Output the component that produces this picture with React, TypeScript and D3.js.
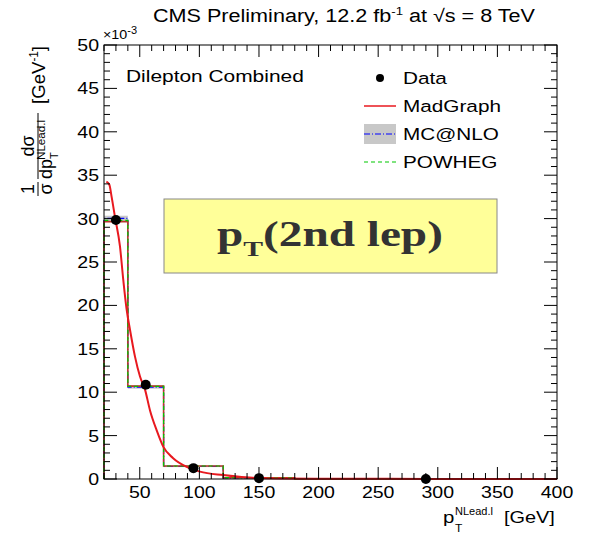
import React from "react";
import * as d3 from "d3";

const binEdges = [20, 40, 70, 120, 180, 400];
const madgraphHist = [29.65, 10.7, 1.5, 0.15, 0.01];
const mcatnloHist = [30.03, 10.6, 1.45, 0.14, 0.01];
const powhegHist = [29.8, 10.66, 1.5, 0.15, 0.01];
const mcatnloErr = [0.3, 0.2, 0.08, 0.03, 0.01];
const dataX = [30, 55, 95, 150, 290];
const dataY = [29.84, 10.85, 1.25, 0.1, 0.01];
const curveX = [22, 24.5, 26.4, 29.2, 33.4, 36.2, 39, 41.8, 46, 50.2, 54.4, 58.6, 64.2, 69.8, 78, 89.4, 100.5, 120, 148, 200, 260, 330, 400];
const curveY = [34.25, 33.9, 32.5, 30.2, 26.8, 22.9, 19.5, 17.2, 14.1, 11.8, 10.3, 7.9, 5.6, 3.7, 2.4, 1.4, 0.85, 0.45, 0.12, 0.04, 0.015, 0.006, 0.003];
const xTicks = [50, 100, 150, 200, 250, 300, 350, 400];
const yTicks = [0, 5, 10, 15, 20, 25, 30, 35, 40, 45, 50];
const legendItems = ["Data", "MadGraph", "MC@NLO", "POWHEG"];

const W = 594, H = 539;
const L = 104, R = 557, T = 45, B = 479;
const font = "'Liberation Sans', Arial, Helvetica, sans-serif";
const SX = 1.2;

function ST({ x, y, s = SX, children, anchor = "start", size = 17, ...rest }: any) {
  return (
    <g transform={`translate(${x},${y}) scale(${s},1)`}>
      <text x={0} y={0} fontSize={size} textAnchor={anchor} {...rest}>
        {children}
      </text>
    </g>
  );
}

export default function App() {
  const x = d3.scaleLinear().domain([20, 400]).range([L, R]);
  const y = d3.scaleLinear().domain([0, 50]).range([B, T]);

  const histPath = (vals: number[]) => {
    let p = "";
    vals.forEach((v, i) => {
      const x0 = x(binEdges[i]), x1 = x(binEdges[i + 1]);
      p += (i === 0 ? `M${x0},${y(0)}L${x0},${y(v)}` : `L${x0},${y(v)}`) + `L${x1},${y(v)}`;
    });
    p += `L${x(binEdges[binEdges.length - 1])},${y(0)}`;
    return p;
  };

  const curve = d3
    .line<number>()
    .x((_, i) => x(curveX[i]))
    .y((_, i) => y(curveY[i]))
    .curve(d3.curveMonotoneX)(curveY) as string;

  const minorX = d3.range(20, 401, 10);
  const minorY = d3.range(0, 51, 1);

  const red = "#e8191f";
  const green = "#00c800";
  const blue = "#0000ff";

  return (
    <svg width={W} height={H} style={{ position: "absolute", left: 0, top: 0, background: "#fff" }} fontFamily={font}>
      <rect x={0} y={0} width={W} height={H} fill="#fff" />
      {/* title */}
      <text x={153} y={22} fontSize={18} fill="#000" textLength={382} lengthAdjust="spacingAndGlyphs">
        CMS Preliminary, 12.2 fb<tspan dy={-7} fontSize={11}>-1</tspan>
        <tspan dy={7}> at  √s =  8 TeV</tspan>
      </text>
      {/* exponent */}
      <ST x={103} y={39} size={13} s={1.1}>
        ×10<tspan dy={-5} fontSize={10}>-3</tspan>
      </ST>

      {/* MC@NLO band */}
      {mcatnloHist.map((v, i) => (
        <rect
          key={"b" + i}
          x={x(binEdges[i])}
          width={x(binEdges[i + 1]) - x(binEdges[i])}
          y={y(v + mcatnloErr[i])}
          height={Math.max(1, y(v - mcatnloErr[i]) - y(v + mcatnloErr[i]))}
          fill="#c8c8c8"
        />
      ))}
      <path d={histPath(mcatnloHist)} fill="none" stroke={blue} strokeWidth={1.3} strokeDasharray="6,2,1,2" />
      <path d={histPath(madgraphHist)} fill="none" stroke="#b8372a" strokeWidth={1.6} />
      <path d={histPath(powhegHist)} fill="none" stroke={green} strokeWidth={1.2} strokeDasharray="4,3" />
      <path d={curve} fill="none" stroke={red} strokeWidth={2} />

      {/* data */}
      {dataX.map((d, i) => (
        <circle key={"d" + i} cx={x(d)} cy={y(dataY[i])} r={5} fill="#000" />
      ))}

      {/* frame */}
      <rect x={L} y={T} width={R - L} height={B - T} fill="none" stroke="#000" strokeWidth={1} />
      {minorX.map((v) => {
        const len = v % 50 === 0 ? 12 : 6;
        return (
          <g key={"xt" + v}>
            <line x1={x(v)} x2={x(v)} y1={B} y2={B - len} stroke="#000" />
            <line x1={x(v)} x2={x(v)} y1={T} y2={T + len} stroke="#000" />
          </g>
        );
      })}
      {minorY.map((v) => {
        const len = v % 5 === 0 ? 13 : 6;
        return (
          <g key={"yt" + v}>
            <line x1={L} x2={L + len} y1={y(v)} y2={y(v)} stroke="#000" />
            <line x1={R} x2={R - len} y1={y(v)} y2={y(v)} stroke="#000" />
          </g>
        );
      })}
      {xTicks.map((v) => (
        <ST key={"xl" + v} x={x(v)} y={498} size={17} s={1.15} anchor="middle">
          {v}
        </ST>
      ))}
      {yTicks.map((v) => (
        <ST key={"yl" + v} x={99} y={y(v) + 6} size={17} s={1.15} anchor="end">
          {v}
        </ST>
      ))}

      {/* x label */}
      <ST x={443} y={523} size={17}>p</ST>
      <ST x={455} y={532} size={10}>T</ST>
      <ST x={455} y={515} size={11} s={1.0}>NLead.l</ST>
      <ST x={504} y={523} size={17} s={1.17}>[GeV]</ST>

      {/* y label */}
      <g transform="translate(38,0) rotate(-90)">
        <text x={-189} y={-4} fontSize={18} textAnchor="middle">1</text>
        <line x1={-196} x2={-182} y1={0} y2={0} stroke="#000" />
        <text x={-189} y={14} fontSize={18} textAnchor="middle">σ</text>
        <text x={-146} y={-4} fontSize={18} textAnchor="middle">dσ</text>
        <line x1={-179} x2={-113} y1={0} y2={0} stroke="#000" />
        <text x={-179} y={14} fontSize={18}>dp</text>
        <text x={-159} y={20} fontSize={11}>T</text>
        <text x={-160} y={7} fontSize={11} textLength={40} lengthAdjust="spacingAndGlyphs">NLead.l</text>
        <text x={-104} y={7} fontSize={19} textLength={58} lengthAdjust="spacingAndGlyphs">
          [GeV<tspan dy={-7} fontSize={12}>-1</tspan>
          <tspan dy={7}>]</tspan>
        </text>
      </g>

      {/* Dilepton Combined */}
      <ST x={126} y={82} size={17} s={1.23}>Dilepton Combined</ST>

      {/* legend */}
      {legendItems.map((t, i) => {
        const cy = 78 + i * 28;
        return (
          <g key={"lg" + i}>
            {i === 0 && <circle cx={380} cy={cy} r={4} fill="#000" />}
            {i === 1 && <line x1={364} x2={396} y1={cy} y2={cy} stroke={red} strokeWidth={1.5} />}
            {i === 2 && (
              <>
                <rect x={364} y={cy - 10} width={32} height={20} fill="#c8c8c8" />
                <line x1={364} x2={396} y1={cy} y2={cy} stroke={blue} strokeWidth={1.2} strokeDasharray="6,2,1,2" />
              </>
            )}
            {i === 3 && <line x1={364} x2={396} y1={cy} y2={cy} stroke={green} strokeWidth={1.2} strokeDasharray="4,3" />}
            <ST x={403} y={cy + 6} size={17} s={1.22}>{t}</ST>
          </g>
        );
      })}

      {/* label box */}
      <rect x={164} y={199} width={333} height={74} fill="#ffff99" stroke="#888" strokeWidth={1} />
      <g transform="translate(217,246) scale(1.35,1)">
        <text x={0} y={0} fontSize={35} fontWeight="bold" fontFamily="'Liberation Serif', 'Times New Roman', serif" fill="#333">
          p<tspan dy={10} fontSize={22}>T</tspan>
          <tspan dy={-10}>(2nd lep)</tspan>
        </text>
      </g>
    </svg>
  );
}
